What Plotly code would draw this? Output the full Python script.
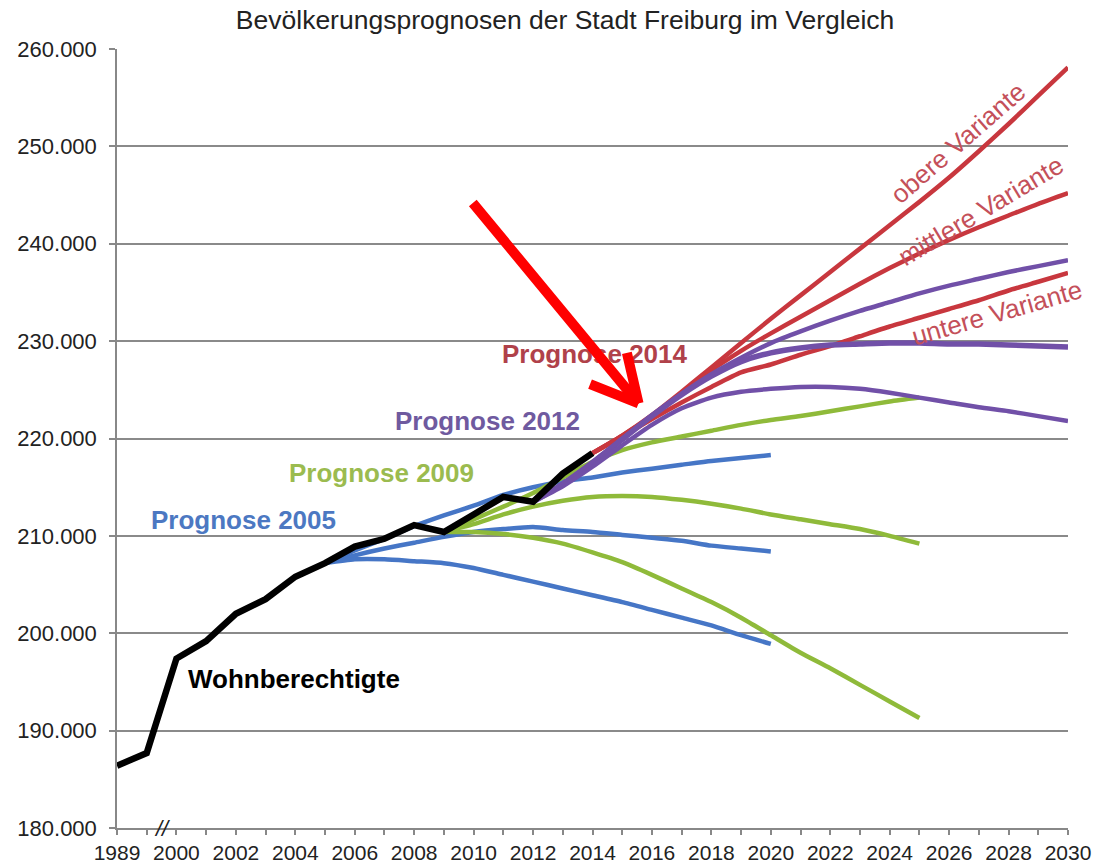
import plotly.graph_objects as go

# ---------------- data ----------------
hist_years = [1989, 1999, 2000, 2001, 2002, 2003, 2004, 2005, 2006, 2007, 2008, 2009, 2010, 2011, 2012, 2013, 2014]
hist_values = [186400, 187700, 197400, 199200, 202000, 203500, 205800, 207200, 208900, 209700, 211100, 210400, 212200, 214000, 213500, 216400, 218500]

p2005_years = list(range(2005, 2021))
p2005_high = [207200, 208500, 209700, 211000, 212100, 213100, 214200, 215000, 215600, 216000, 216500, 216900, 217300, 217700, 218000, 218300]
p2005_mid = [207200, 208000, 208700, 209300, 209900, 210400, 210700, 210900, 210600, 210400, 210100, 209800, 209500, 209000, 208700, 208400]
p2005_low = [207200, 207600, 207600, 207400, 207200, 206700, 206000, 205300, 204600, 203900, 203200, 202400, 201600, 200800, 199800, 198900]

p2009_years = list(range(2009, 2026))
p2009_high = [210400, 211700, 213000, 214400, 216000, 217600, 218800, 219600, 220200, 220800, 221400, 221900, 222300, 222800, 223300, 223800, 224200]
p2009_mid = [210400, 211200, 212200, 213000, 213600, 214000, 214100, 214000, 213700, 213300, 212800, 212200, 211700, 211200, 210700, 210000, 209200]
p2009_low = [210400, 210400, 210200, 209800, 209200, 208300, 207300, 206000, 204600, 203200, 201600, 199800, 198000, 196400, 194700, 193000, 191300]

p2012_years = list(range(2012, 2031))
p2012_high = [213500, 215400, 217600, 220000, 222400, 224600, 226600, 228300, 229800, 231000, 232100, 233100, 234000, 234900, 235700, 236400, 237100, 237700, 238300]
p2012_mid = [213500, 215300, 217500, 219900, 222300, 224500, 226400, 227900, 228800, 229300, 229600, 229700, 229800, 229800, 229700, 229700, 229600, 229500, 229400]
p2012_low = [213500, 215100, 217100, 219300, 221400, 223100, 224200, 224800, 225100, 225300, 225300, 225100, 224700, 224200, 223700, 223200, 222800, 222300, 221800]

p2014_years = list(range(2014, 2031))
p2014_obere = [218500, 220300, 222400, 224800, 227300, 229800, 232300, 234700, 237100, 239500, 241900, 244300, 246800, 249500, 252300, 255200, 258100]
p2014_mittlere = [218500, 220300, 222300, 224600, 227000, 229000, 230800, 232500, 234200, 235900, 237500, 239000, 240400, 241700, 242900, 244100, 245200]
p2014_untere = [218500, 220200, 222000, 223700, 225300, 226800, 227600, 228600, 229500, 230500, 231500, 232400, 233300, 234200, 235200, 236100, 237000]

tick_years = [1989] + list(range(2000, 2031, 2))
y_ticks = list(range(180000, 260001, 10000))

BREAK_FROM = 1999   # years before this are shifted next to the axis break
BREAK_SHIFT = 9     # 1989 is drawn one slot left of 1999


def axis_x(years):
    return [y + BREAK_SHIFT if y < BREAK_FROM else y for y in years]


BLUE = "#4676C6"
GREEN = "#8FBA3A"
PURPLE = "#7150A8"
RED = "#C8373E"
BLACK = "#000000"

fig = go.Figure()


def add_line(years, values, color, width):
    fig.add_trace(go.Scatter(x=axis_x(years), y=values, mode="lines",
                             line=dict(color=color, width=width, shape="spline", smoothing=0.6),
                             hoverinfo="skip", showlegend=False))


for vals in (p2005_high, p2005_mid, p2005_low):
    add_line(p2005_years, vals, BLUE, 4.5)
for vals in (p2009_high, p2009_mid, p2009_low):
    add_line(p2009_years, vals, GREEN, 4.5)
for vals in (p2014_obere, p2014_mittlere, p2014_untere):
    add_line(p2014_years, vals, RED, 4.5)
for vals, w in ((p2012_high, 4.5), (p2012_mid, 5.5), (p2012_low, 4.5)):
    add_line(p2012_years, vals, PURPLE, w)

fig.add_trace(go.Scatter(x=axis_x(hist_years), y=hist_values, mode="lines",
                         line=dict(color=BLACK, width=6.5), hoverinfo="skip", showlegend=False))

FONT = "Liberation Sans, Arial, sans-serif"


def label(text, x, y, color, size=26, bold=True, angle=0):
    fig.add_annotation(x=x, y=y, text=f"<b>{text}</b>" if bold else text, showarrow=False,
                       font=dict(family=FONT, size=size, color=color), textangle=angle,
                       xanchor="center", yanchor="middle")


label("Prognose 2014", 2014.1, 228700, "#B0414A")
label("Prognose 2012", 2010.45, 221800, "#6F5A9F")
label("Prognose 2009", 2006.9, 216500, "#9BBB4F")
label("Prognose 2005", 2002.25, 211600, "#4C78C2")
label("Wohnberechtigte", 2003.95, 195300, "#000000")
label("obere Variante", 2026.3, 250300, "#C4505A", size=26, bold=False, angle=-41)
label("mittlere Variante", 2027.05, 243400, "#C4505A", size=26, bold=False, angle=-31)
label("untere Variante", 2027.6, 232900, "#C4505A", size=26, bold=False, angle=-16)

# axis break marker
fig.add_annotation(x=1999.5, y=180000, text="<i>//</i>", showarrow=False,
                   font=dict(family=FONT, size=22, color="#222"), yanchor="middle", xanchor="center")

# red arrow: shaft and two head strokes meeting at the tip
ARROW_TIP = (2015.55, 223600)
for dx, dy in ((-167, -202), (-50, -20), (-12, -52)):
    fig.add_annotation(x=ARROW_TIP[0], y=ARROW_TIP[1], ax=dx, ay=dy, axref="pixel", ayref="pixel",
                       showarrow=True, arrowhead=0, arrowwidth=10, arrowcolor="#FF0000", text="")

fig.update_layout(
    width=1093, height=866,
    margin=dict(l=117, r=25, t=49, b=38),
    paper_bgcolor="white", plot_bgcolor="white",
    separators=",.",
    title=dict(text="Bevölkerungsprognosen der Stadt Freiburg im Vergleich",
               x=0.517, xanchor="center", y=0.977, yanchor="middle",
               font=dict(family=FONT, size=26.5, color="#222")),
    showlegend=False,
)

fig.update_xaxes(range=[1998, 2030], tickvals=axis_x(tick_years), ticktext=[str(t) for t in tick_years],
                 automargin=False,
                 showgrid=False, zeroline=False, showline=True, linecolor="#888", linewidth=1.5,
                 ticks="outside", ticklen=5, tickcolor="#888", tickwidth=1.5,
                 minor=dict(dtick=1, tick0=1998, ticks="outside", ticklen=5, tickcolor="#888", showgrid=False),
                 tickfont=dict(family=FONT, size=21, color="#222"))
fig.update_yaxes(range=[180000, 260000], tickvals=y_ticks, tickformat=",d", automargin=False,
                 showgrid=True, gridcolor="#8a8a8a", gridwidth=1.5, zeroline=False,
                 showline=True, linecolor="#888", linewidth=1.5,
                 ticks="outside", ticklen=6, tickcolor="#888", tickwidth=1.5, ticklabelstandoff=8,
                 tickfont=dict(family=FONT, size=22, color="#222"))

# let the figure fill the window exactly (no default 8px page margin)
fig.write_html("out.html", config={"displayModeBar": False},
               post_script="document.body.style.margin='0';document.body.style.overflow='hidden';")
